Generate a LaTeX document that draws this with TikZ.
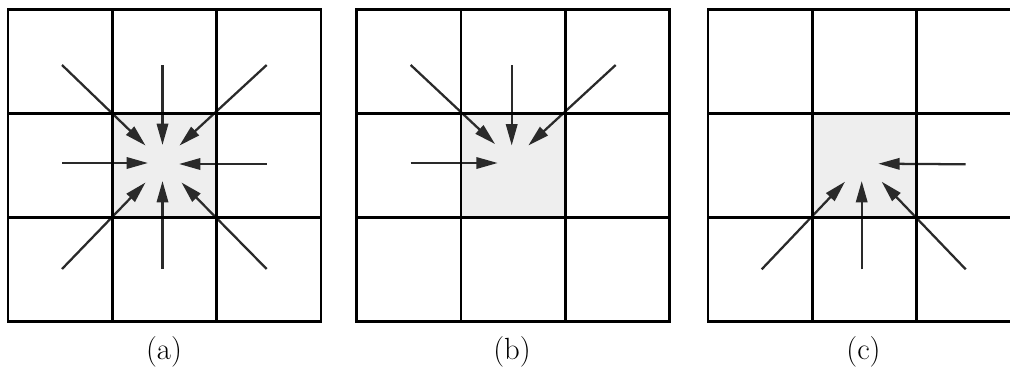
\documentclass[tikz,border=0pt]{standalone}
\usepackage{fontspec}
\usetikzlibrary{arrows.meta}
\definecolor{cellgray}{HTML}{EEEEEE}
\definecolor{arrowgray}{HTML}{2A2A2A}
\tikzset{
  gridline/.style={line width=2.2pt, black},
  arr/.style={line width=1.7pt, arrowgray, -{Triangle[length=16pt,width=8.5pt]}},
  caption/.style={font=\fontsize{23}{27}\selectfont, anchor=base, inner sep=0pt},
}
\newcommand{\panelgrid}{%
  \fill[cellgray] (104.3,113.5) rectangle (208.6,217.5);
}
\newcommand{\panellines}{%
  \draw[gridline] (0,9.5) rectangle (313,321.5);
  \draw[gridline] (104.3,9.5) -- (104.3,321.5);
  \draw[gridline] (208.6,9.5) -- (208.6,321.5);
  \draw[gridline] (0,113.5) -- (313,113.5);
  \draw[gridline] (0,217.5) -- (313,217.5);
}
\begin{document}
\begin{tikzpicture}[x=0.75pt,y=-0.75pt]
\useasboundingbox (0,0) rectangle (1010,372);
\clip (0,0) rectangle (1010,372);
% ---------- panel (a) ----------
\begin{scope}[shift={(8,0)}]
  \panelgrid
  \coordinate (aNWs) at (54,65);    \coordinate (aNWt) at (137.5,145.5);
  \coordinate (aNs)  at (154.5,65); \coordinate (aNt)  at (154.5,145);
  \coordinate (aNEs) at (258.7,65); \coordinate (aNEt) at (171.5,145.5);
  \coordinate (aWs)  at (54,163);   \coordinate (aWt)  at (140,163);
  \coordinate (aEs)  at (258.7,164);\coordinate (aEt)  at (171,164);
  \coordinate (aSWs) at (54,269);   \coordinate (aSWt) at (137.5,182.5);
  \coordinate (aSs)  at (154.5,269);\coordinate (aSt)  at (154.5,181);
  \coordinate (aSEs) at (258.7,269);\coordinate (aSEt) at (173.5,182.5);
  \foreach \d in {NW,N,NE,W,E,SW,S,SE} \draw[arr] (a\d s) -- (a\d t);
  \panellines
\end{scope}
% ---------- panel (b) ----------
\begin{scope}[shift={(356.7,0)}]
  \panelgrid
  \coordinate (bNWs) at (54,65);    \coordinate (bNWt) at (138.3,144);
  \coordinate (bNs)  at (155,65);   \coordinate (bNt)  at (155,145.5);
  \coordinate (bNEs) at (259,65);   \coordinate (bNEt) at (171.6,145.5);
  \coordinate (bWs)  at (54,163);   \coordinate (bWt)  at (141,163);
  \foreach \d in {NW,N,NE,W} \draw[arr] (b\d s) -- (b\d t);
  \panellines
\end{scope}
% ---------- panel (c) ----------
\begin{scope}[shift={(708,0)}]
  \panelgrid
  \coordinate (cEs)  at (257.7,164.3); \coordinate (cEt)  at (170.3,163.7);
  \coordinate (cSWs) at (53.7,269.3);  \coordinate (cSWt) at (137,181.7);
  \coordinate (cSs)  at (153.7,269.3); \coordinate (cSt)  at (153.7,181);
  \coordinate (cSEs) at (257.7,269.3); \coordinate (cSEt) at (173.7,181.7);
  \foreach \d in {E,SW,S,SE} \draw[arr] (c\d s) -- (c\d t);
  \panellines
\end{scope}
% ---------- captions ----------
\node[caption] (la) at (164,359) {(a)};
\node[caption] (lb) at (512,359) {(b)};
\node[caption] (lc) at (863.5,359) {(c)};
\end{tikzpicture}
\end{document}
